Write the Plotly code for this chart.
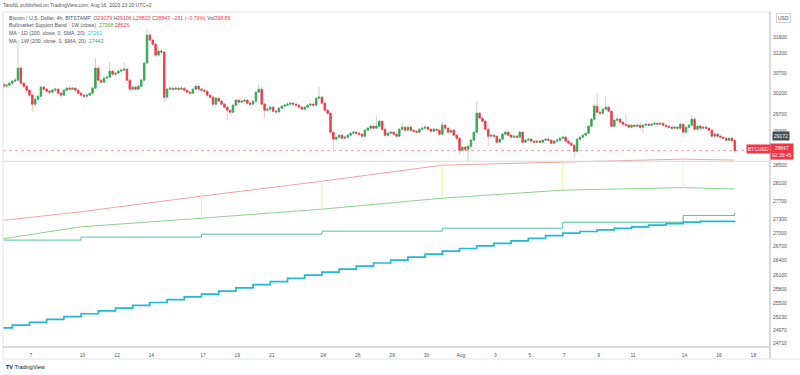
import plotly.graph_objects as go
import pandas as pd
import numpy as np

# ---------------- data (BTCUSD 4h, Bitstamp, UTC+2) ----------------
first_candle = "2023-07-05 10:00"

opens = [30432,30383,30408,30457,30506,30531,30828,30457,30383,30286,
 30164,29946,30067,30139,30359,30310,30261,30237,30286,30310,
 30212,30164,30286,30334,30310,30334,30286,30212,30164,30139,
 30164,30212,30334,30828,30531,30481,30580,30604,30753,30679,
 30704,30753,30778,30803,30531,30310,30359,30310,30383,30531,
 30953,31659,31531,31429,31153,31254,31228,30115,30310,30334,
 30310,30334,30310,30334,30286,30237,30212,30310,30383,30310,
 30286,30261,30164,30115,29946,30091,30018,29946,29873,29801,
 29753,29922,30043,29994,30018,30043,29970,29946,30018,30237,
 30310,29946,29801,29825,29873,29777,29760,29849,29898,29922,
 29946,29970,29946,29922,29873,29825,29873,29922,29946,29922,
 30091,30115,29970,29801,29729,29278,29113,29160,29207,29136,
 29160,29207,29254,29278,29254,29230,29183,29325,29372,29419,
 29372,29419,29538,29348,29207,29254,29278,29230,29183,29348,
 29396,29325,29396,29325,29301,29278,29348,29372,29396,29348,
 29301,29348,29325,29230,29443,29372,29278,29325,29207,29136,
 28856,28926,28879,28949,29090,29278,29729,29610,29538,29348,
 29183,29207,29183,29043,29113,29230,29278,29207,29160,29183,
 29160,29278,29043,29090,29113,29066,29043,29066,29043,29090,
 29113,29090,29019,29066,29090,29136,29160,29066,29019,28973,
 28833,29113,29160,29207,29254,29419,29586,29898,29753,29729,
 29825,29873,29777,29419,29562,29586,29514,29467,29443,29396,
 29443,29419,29443,29396,29443,29467,29443,29467,29490,29467,
 29490,29443,29419,29396,29372,29396,29372,29467,29278,29396,
 29443,29586,29348,29419,29372,29396,29372,29325,29183,29230,
 29183,29160,29136,29090,29136,29079]

highs = [30481,30440,30490,30540,30600,31531,30900,30480,30410,30300,
 30190,30090,30170,30400,30390,30330,30290,30310,30350,30340,
 30240,30310,30370,30380,30360,30350,30300,30240,30180,30190,
 30240,30360,31078,30870,30560,30620,30650,30978,30790,30740,
 30790,30830,30978,30830,30560,30400,30390,30410,30560,31000,
 31813,31720,31560,31460,31290,31300,31260,30340,30360,30370,
 30350,30360,30380,30350,30300,30260,30330,30420,30400,30330,
 30310,30280,30190,30140,30120,30110,30040,29970,29890,29830,
 29950,30070,30060,30050,30070,30060,30000,30040,30260,30432,
 30383,29970,29860,29900,29890,29800,29880,29920,29950,29990,
 30000,29990,29960,29940,29890,29900,29950,29970,29970,30120,
 30359,30140,29990,29820,29750,29300,29190,29240,29230,29190,
 29230,29280,29310,29300,29280,29250,29350,29400,29450,29440,
 29681,29570,29560,29370,29280,29310,29300,29250,29380,29514,
 29410,29420,29420,29350,29320,29370,29400,29420,29410,29370,
 29370,29370,29340,29514,29460,29390,29350,29340,29230,29150,
 28950,28950,28970,29110,29300,30018,29760,29640,29560,29370,
 29240,29230,29200,29140,29260,29310,29300,29230,29210,29210,
 29310,29300,29110,29140,29140,29090,29090,29090,29110,29140,
 29140,29110,29090,29120,29160,29190,29180,29090,29040,28990,
 29140,29190,29240,29280,29440,29620,29970,30212,29780,29850,
 30139,29900,29800,29590,29620,29610,29540,29729,29460,29470,
 29460,29470,29514,29460,29490,29490,29490,29510,29510,29520,
 29510,29460,29440,29420,29420,29420,29500,29490,29420,29470,
 29681,29610,29440,29440,29420,29420,29390,29340,29260,29250,
 29210,29180,29150,29160,29150,29106]

lows = [30334,30350,30380,30430,30470,30500,30383,30330,30240,30120,
 29753,29900,30030,30110,30270,30220,30190,30200,30250,30180,
 30110,30140,30260,30280,30290,30250,30180,30130,30090,30100,
 30140,30190,30310,30500,30440,30460,30560,30580,30640,30650,
 30680,30720,30750,30500,30260,30280,30270,30290,30360,30500,
 30920,31490,31380,31100,31110,31190,29994,30080,30280,30280,
 30290,30270,30290,30250,30200,30170,30190,30290,30280,30250,
 30230,30130,30080,29900,29920,29990,29910,29840,29562,29700,
 29720,29900,29960,29970,29990,29940,29910,29920,29990,30210,
 29920,29610,29760,29790,29740,29720,29740,29830,29870,29900,
 29930,29920,29890,29850,29790,29800,29850,29900,29890,29900,
 30060,29940,29770,29690,29240,28879,29080,29130,29100,29110,
 29140,29180,29230,29220,29200,29150,29160,29300,29350,29340,
 29350,29400,29320,29170,29180,29230,29200,29150,29160,29320,
 29290,29300,29290,29270,29250,29250,29320,29350,29320,29270,
 29280,29300,29200,29210,29340,29250,29250,29180,29100,28763,
 28820,28840,28601,28920,29060,29250,29580,29500,29320,28949,
 29150,29150,29010,29020,29090,29200,29180,29130,29130,29130,
 29140,29010,29020,29070,29040,29020,29020,29020,29020,29070,
 29060,28990,28990,29040,29070,29110,29040,28990,28940,28694,
 28800,29090,29140,29180,29230,29390,29560,29720,29690,29700,
 29800,29750,29390,29390,29540,29490,29440,29410,29370,29370,
 29390,29400,29325,29254,29420,29420,29420,29440,29440,29450,
 29420,29390,29370,29340,29350,29350,29350,29160,29250,29370,
 29420,29320,29320,29350,29350,29350,29300,29160,29160,29150,
 29130,29110,29060,29070,29050,28820]

closes = [30383,30408,30457,30506,30531,30828,30457,30383,30286,30164,
 29946,30067,30139,30359,30310,30261,30237,30286,30310,30212,
 30164,30286,30334,30310,30334,30286,30212,30164,30139,30164,
 30212,30334,30828,30531,30481,30580,30604,30753,30679,30704,
 30753,30778,30803,30531,30310,30359,30310,30383,30531,30953,
 31659,31531,31429,31153,31254,31228,30115,30310,30334,30310,
 30334,30310,30334,30286,30237,30212,30310,30383,30310,30286,
 30261,30164,30115,29946,30091,30018,29946,29873,29801,29753,
 29922,30043,29994,30018,30043,29970,29946,30018,30237,30310,
 29946,29801,29825,29873,29777,29760,29849,29898,29922,29946,
 29970,29946,29922,29873,29825,29873,29922,29946,29922,30091,
 30115,29970,29801,29729,29278,29113,29160,29207,29136,29160,
 29207,29254,29278,29254,29230,29183,29325,29372,29419,29372,
 29419,29538,29348,29207,29254,29278,29230,29183,29348,29396,
 29325,29396,29325,29301,29278,29348,29372,29396,29348,29301,
 29348,29325,29230,29443,29372,29278,29325,29207,29136,28856,
 28926,28879,28949,29090,29278,29729,29610,29538,29348,29183,
 29207,29183,29043,29113,29230,29278,29207,29160,29183,29160,
 29278,29043,29090,29113,29066,29043,29066,29043,29090,29113,
 29090,29019,29066,29090,29136,29160,29066,29019,28973,28833,
 29113,29160,29207,29254,29419,29586,29898,29753,29729,29825,
 29873,29777,29419,29562,29586,29514,29467,29443,29396,29443,
 29419,29443,29396,29443,29467,29443,29467,29490,29467,29490,
 29443,29419,29396,29372,29396,29372,29467,29278,29396,29443,
 29586,29348,29419,29372,29396,29372,29325,29183,29230,29183,
 29160,29136,29090,29136,29078,28847]

# Bullmarket Support Band (1W) - values at weekly closes + realtime bar
band_dates = ["2023-07-02 22:00", "2023-07-09 22:00", "2023-07-16 22:00", "2023-07-23 22:00",
              "2023-07-30 22:00", "2023-08-06 22:00", "2023-08-13 22:00", "2023-08-16 22:00"]
band_ema21w = [27170, 27460, 27808, 28145, 28510, 28580, 28650, 28626]
band_sma20w = [26730, 27130, 27318, 27518, 27763, 27942, 28000, 27968]
band_fill_dates = ["2023-07-16 22:00", "2023-07-23 22:00", "2023-07-30 22:00",
                   "2023-08-06 22:00", "2023-08-13 22:00"]
band_fill_top = [27808, 28145, 28510, 28580, 28650]
band_fill_bot = [27318, 27518, 27763, 27942, 28000]

# MA 200 on 1W
ma1w_dates = ["2023-07-05 10:00", "2023-07-09 22:00", "2023-07-16 22:00", "2023-07-23 22:00",
              "2023-07-30 22:00", "2023-08-06 22:00", "2023-08-13 22:00", "2023-08-16 22:00"]
ma1w_vals = [26841, 26905, 26970, 27035, 27100, 27230, 27380, 27443]

# MA 200 on 1D (value per day, changes at each daily close)
ma1d_vals = [25008, 25065, 25120, 25180, 25236, 25295, 25352, 25410, 25468, 25525,
             25583, 25640, 25697, 25762, 25828, 25895, 25960, 26027, 26093, 26159,
             26222, 26286, 26350, 26413, 26477, 26540, 26605, 26660, 26716, 26770,
             26826, 26880, 26937, 26992, 27027, 27062, 27097, 27130, 27165, 27199,
             27232, 27247, 27261]

price_ticks = [31600, 31200, 30700, 30200, 29700, 29300, 28500, 28100, 27700, 27300,
               27000, 26700, 26400, 26100, 25800, 25500, 25230, 24970, 24710]
date_ticks = ["2023-07-07", "2023-07-10", "2023-07-12", "2023-07-14", "2023-07-17", "2023-07-19",
              "2023-07-21", "2023-07-24", "2023-07-26", "2023-07-28", "2023-07-30", "2023-08-01",
              "2023-08-03", "2023-08-05", "2023-08-07", "2023-08-09", "2023-08-11", "2023-08-14",
              "2023-08-16", "2023-08-18"]
date_labels = ["7", "10", "12", "14", "17", "19", "21", "24", "26", "28", "30", "Aug",
               "3", "5", "7", "9", "11", "14", "16", "18"]
hline_level = 28600
ref_label = 29172

# ---------------- figure ----------------
times = pd.date_range(first_candle, periods=len(closes), freq="4h")
ma1d_dates = list(pd.date_range("2023-07-04 22:00", periods=len(ma1d_vals) - 1, freq="D")) + [times[-1]]

UP, DN = "#2eaa4f", "#f23645"
FONT = "Liberation Sans, Arial, sans-serif"

fig = go.Figure()

# support band lines
fig.add_trace(go.Scatter(x=band_dates, y=band_ema21w, mode="lines",
                         line=dict(color="#f4a3a3", width=1), hoverinfo="skip"))
fig.add_trace(go.Scatter(x=band_dates, y=band_sma20w, mode="lines",
                         line=dict(color="#8fd18f", width=1), hoverinfo="skip"))
# yellow fill slivers
fx, fy = [], []
for d, t, b in zip(band_fill_dates, band_fill_top, band_fill_bot):
    fx += [d, d, None]
    fy += [t, b, None]
fig.add_trace(go.Scatter(x=fx, y=fy, mode="lines", line=dict(color="#fbeea0", width=1),
                         hoverinfo="skip"))

# MA 1W
fig.add_trace(go.Scatter(x=ma1w_dates, y=ma1w_vals, mode="lines", line_shape="hv",
                         line=dict(color="#4fc3a1", width=1), hoverinfo="skip"))
# MA 1D
fig.add_trace(go.Scatter(x=ma1d_dates, y=ma1d_vals, mode="lines", line_shape="hv",
                         line=dict(color="#22b8d6", width=1.7), hoverinfo="skip"))

# candles: wicks (pale) then bodies
fig.add_trace(go.Candlestick(x=times, open=opens, high=highs, low=lows, close=closes,
                             increasing=dict(line=dict(color="#b9d9cf", width=1), fillcolor="#b9d9cf"),
                             decreasing=dict(line=dict(color="#f8c4c8", width=1), fillcolor="#f8c4c8"),
                             hoverinfo="skip", whiskerwidth=0))
o = np.array(opens); c = np.array(closes)
fig.add_trace(go.Candlestick(x=times, open=o, high=np.maximum(o, c), low=np.minimum(o, c), close=c,
                             increasing=dict(line=dict(color=UP, width=0.8), fillcolor=UP),
                             decreasing=dict(line=dict(color=DN, width=0.8), fillcolor=DN),
                             hoverinfo="skip", whiskerwidth=0))

W, H = 800, 375
L, R, T, B = 3, 30, 12, 28
pw, ph = W - L - R, H - T - B


def px(x):
    return (x - L) / pw


def py(y):
    return (H - B - y) / ph


shapes = []
# current price line and horizontal level
shapes.append(dict(type="line", xref="paper", yref="y", x0=0, x1=1, y0=closes[-1], y1=closes[-1],
                   line=dict(color="rgba(242,54,69,0.45)", width=1, dash="dot")))
shapes.append(dict(type="line", xref="paper", yref="y", x0=0, x1=1, y0=hline_level, y1=hline_level,
                   line=dict(color="#d6d8de", width=1)))
# frame
GRID = "#e0e3eb"
shapes += [
    dict(type="line", xref="paper", yref="paper", x0=px(3), x1=px(770), y0=py(12), y1=py(12), line=dict(color=GRID, width=1)),
    dict(type="line", xref="paper", yref="paper", x0=px(3), x1=px(3), y0=py(12), y1=py(359), line=dict(color=GRID, width=1)),
    dict(type="line", xref="paper", yref="paper", x0=px(770), x1=px(770), y0=py(12), y1=py(359), line=dict(color="#b2b5be", width=1)),
    dict(type="line", xref="paper", yref="paper", x0=px(3), x1=px(770), y0=py(347), y1=py(347), line=dict(color="#b2b5be", width=1)),
    dict(type="line", xref="paper", yref="paper", x0=px(3), x1=px(800), y0=py(359), y1=py(359), line=dict(color=GRID, width=1)),
]

GREY = "#50535e"
def ann(x, y, text, size=5, color=GREY, **kw):
    d = dict(x=px(x), y=py(y), xref="paper", yref="paper", text=text, showarrow=False,
             xanchor="left", yanchor="middle", font=dict(size=size, color=color, family=FONT))
    d.update(kw)
    return d

red = lambda s: f"<span style='color:#f23645'>{s}</span>"
chg = closes[-1] - closes[-2]
annotations = [
    ann(1, 5.5, "TaroNL published on TradingView.com, Aug 16, 2023 23:20 UTC+2", color="#555"),
    ann(7, 18.3, "Bitcoin / U.S. Dollar, 4h, BITSTAMP  O" + red(opens[-1]) + " H" + red(highs[-1]) +
        " L" + red(lows[-1]) + " C" + red(closes[-1]) + " " +
        red(f"\u2212{abs(chg)} (\u2212{abs(chg) / closes[-2] * 100:.2f}%)") + " Vol" + red("398.89"), size=5.2),
    ann(7, 24.6, "Bullmarket Support Band \u00b7 1W (close)  <span style='color:#4caf50'>" +
        f"{band_sma20w[-1]}</span> " + red(band_ema21w[-1]), size=5.2),
    ann(7, 33.2, "MA \u00b7 1D (200, close, 0, SMA, 20)  <span style='color:#22b8d6'>" + f"{ma1d_vals[-1]}</span>", size=5.2),
    ann(7, 40.6, "MA \u00b7 1W (200, close, 0, SMA, 20)  <span style='color:#26a69a'>" + f"{ma1w_vals[-1]}</span>", size=5.2),
    ann(783, 17.5, "USD", xanchor="center", bgcolor="white", bordercolor="#d1d4dc", borderwidth=1, borderpad=1),
    ann(780.5, 136.3, f"{ref_label}", color="white", xanchor="center", bgcolor="#4a4d57", borderpad=1),
    ann(781.5, 151.5, f"{closes[-1]}<br>02:39:45", color="white", xanchor="center", bgcolor="#f23645", borderpad=1),
    ann(758.5, 149.4, "BTCUSD", color="white", xanchor="center", bgcolor="#f23645", borderpad=1),
    ann(4, 366.5, "<b>TV</b> TradingView", size=5.5, color="#131722"),
]

fig.update_layout(
    width=W, height=H, margin=dict(l=L, r=R, t=T, b=B),
    paper_bgcolor="white", plot_bgcolor="white", showlegend=False,
    boxmode="overlay", boxgap=0.3,
    shapes=shapes, annotations=annotations,
    font=dict(family=FONT, size=5, color=GREY),
    xaxis=dict(type="date", range=["2023-07-05 09:04", "2023-08-18 23:10"], rangeslider=dict(visible=False),
               showgrid=False, zeroline=False, showline=False, tickvals=date_ticks, ticktext=date_labels,
               ticks="", ticklabelstandoff=4, tickfont=dict(size=5, color=GREY), fixedrange=True),
    yaxis=dict(type="log", side="right", range=[np.log10(24627), np.log10(32253)], showgrid=False,
               zeroline=False, showline=False, tickvals=price_ticks, ticktext=[str(v) for v in price_ticks],
               ticks="", ticklabelstandoff=2, tickfont=dict(size=5, color=GREY), fixedrange=True),
)

fig.write_html("out.html", config={"displayModeBar": False, "staticPlot": True},
               post_script="document.body.style.margin='0';document.body.style.padding='0';")
